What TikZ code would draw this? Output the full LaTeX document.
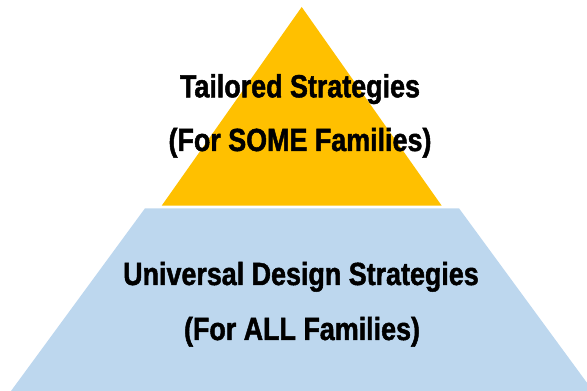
\documentclass[tikz,border=0pt]{standalone}
\usepackage{fontspec}
\setmainfont{Liberation Sans}
\newfontfamily\narrowbold{Liberation Sans}[FakeStretch=0.84,BoldFont={Liberation Sans Bold},BoldFeatures={FakeStretch=0.84,FakeBold=1.5}]
\definecolor{gold}{HTML}{FFC000}
\definecolor{paleblue}{HTML}{BDD7EE}
\tikzset{
  label text/.style={anchor=base, inner sep=0pt, font=\narrowbold\bfseries\fontsize{32}{38}\selectfont, text=black},
}
\begin{document}
\begin{tikzpicture}[x=1pt,y=1pt]
\useasboundingbox (0,0) rectangle (587,391);
\begin{scope}
\clip (0,0) rectangle (587,391);
\fill[gold] (161.7,185.3) -- (301.7,384) -- (441.7,185.3) -- cycle;
\fill[paleblue] (11,0) -- (145,182.7) -- (459,182.7) -- (593,0) -- cycle;
\end{scope}
\node[label text] (t1) at (300,293.7) {Tailored Strategies};
\node[label text] (t2) at (300,240) {(For SOME Families)};
\node[label text] (t3) at (301,106) {Universal Design Strategies};
\node[label text] (t4) at (302,51) {(For ALL Families)};
\end{tikzpicture}
\end{document}
